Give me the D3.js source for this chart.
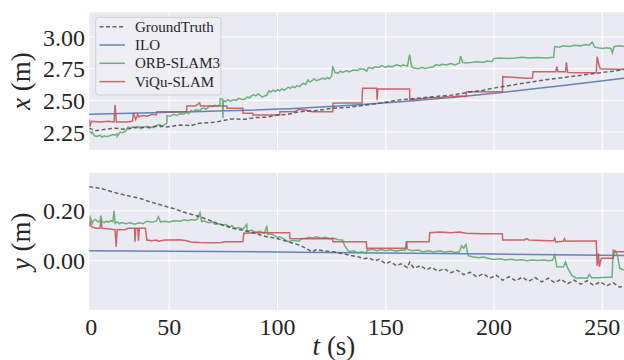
<!DOCTYPE html>
<html><head><meta charset="utf-8">
<script src="https://cdn.jsdelivr.net/npm/d3@7"></script>
<style>
html,body{margin:0;padding:0;background:#fff;}
svg{display:block;}
text{font-family:"Liberation Serif","Times New Roman",serif;fill:#262626;}
</style></head>
<body><svg id="c" width="624" height="360"></svg>
<script>
// ---- data ----
const seriesNames = ["GroundTruth","ILO","ORB-SLAM3","ViQu-SLAM"];
const tTickValues = [13.1, 50, 100, 150, 200, 250];
const tTickLabels = ["0","50","100","150","200","250"];
const xTicks = [2.25, 2.50, 2.75, 3.00];
const yTicks = [0.00, 0.20];

const gtX = [[13,2.28],[16,2.26],[20,2.27],[25,2.28],[30,2.27],[35,2.29],[40,2.285],[45,2.30],[49,2.29],[55,2.305],[60,2.30],[64,2.32],[70,2.325],[75,2.34],[79,2.353],[85,2.35],[90,2.365],[95,2.366],[100,2.385],[105,2.39],[110,2.41],[118,2.42],[125,2.437],[133,2.445],[141,2.463],[148,2.48],[156,2.503],[164,2.515],[172,2.529],[180,2.54],[187,2.56],[195,2.58],[202,2.603],[210,2.625],[218,2.647],[225,2.665],[233,2.682],[241,2.70],[249,2.718],[255,2.73],[260,2.745]];
const iloX = [[13,2.39],[60,2.41],[110,2.437],[160,2.492],[202.5,2.56],[231,2.616],[260,2.675]];
const orbX = [[13,2.26],[14,2.24],[14.5,2.25],[15.5,2.22],[16.7,2.215],[18,2.225],[19,2.21],[20,2.22],[21,2.212],[22.6,2.22],[24,2.23],[25,2.225],[25.9,2.235],[26,2.215],[27.3,2.25],[28.5,2.245],[30,2.26],[31,2.29],[32,2.28],[33.3,2.29],[34.5,2.28],[36,2.29],[37,2.275],[38.5,2.29],[39.7,2.295],[41,2.28],[42,2.29],[43,2.285],[44,2.30],[45.7,2.31],[46,2.29],[47.5,2.305],[48.9,2.32],[49,2.38],[50.5,2.375],[52,2.39],[53.5,2.38],[55,2.395],[56.5,2.39],[58.2,2.405],[59,2.395],[60,2.42],[61,2.41],[62.5,2.425],[64.2,2.42],[65,2.435],[66,2.44],[67,2.43],[68,2.445],[69,2.455],[70,2.45],[71,2.46],[72,2.455],[73.4,2.465],[73.5,2.51],[74.6,2.51],[74.8,2.36],[75,2.50],[76,2.49],[77,2.505],[78,2.495],[80,2.505],[81,2.50],[82,2.515],[84,2.505],[85,2.51],[86,2.525],[87.2,2.52],[88,2.535],[89,2.545],[90,2.535],[91,2.55],[92,2.54],[93,2.525],[94,2.535],[95.1,2.54],[96,2.575],[97,2.565],[98,2.58],[99,2.57],[100,2.585],[101,2.575],[102,2.59],[103,2.58],[104.3,2.595],[105,2.605],[106,2.595],[107,2.61],[108,2.60],[109,2.615],[110.3,2.61],[111,2.625],[112,2.635],[113,2.625],[114,2.66],[115,2.645],[116,2.655],[117,2.67],[118,2.655],[119.5,2.665],[121,2.675],[122,2.665],[123,2.68],[124,2.67],[125,2.69],[125.5,2.77],[126.5,2.72],[128,2.715],[129,2.73],[130,2.72],[132,2.735],[133,2.725],[135,2.74],[137,2.735],[138,2.75],[140,2.745],[141.2,2.73],[142,2.76],[144,2.75],[145,2.765],[147,2.76],[148,2.775],[150,2.76],[151,2.77],[153,2.765],[155,2.78],[157,2.77],[158,2.78],[160,2.77],[161,2.86],[162,2.765],[163,2.755],[165,2.75],[167,2.76],[168,2.75],[170,2.76],[172,2.765],[173,2.78],[175,2.775],[176,2.785],[178,2.78],[180,2.79],[182,2.78],[184,2.795],[184.5,2.85],[185.5,2.80],[187,2.795],[190,2.80],[192,2.805],[195,2.80],[197,2.81],[199,2.805],[200,2.83],[203,2.835],[206,2.83],[210,2.835],[213,2.84],[216,2.835],[220,2.838],[224,2.835],[227.5,2.84],[228,2.925],[230,2.92],[232,2.93],[235,2.925],[237,2.935],[240,2.93],[242,2.94],[244,2.935],[245.3,2.96],[246.5,2.92],[248,2.915],[250,2.91],[252,2.915],[254,2.91],[254.6,2.875],[255.5,2.925],[258,2.93],[260,2.925]];
const viquX = [[13,2.35],[13.4,2.29],[14,2.335],[18,2.33],[22,2.335],[24.5,2.33],[25,2.465],[25.6,2.33],[30,2.33],[33,2.335],[33.5,2.40],[34.5,2.35],[35.5,2.39],[36,2.37],[38,2.38],[40,2.375],[42,2.39],[44,2.385],[44.3,2.41],[50,2.41],[55,2.41],[58,2.41],[58.2,2.455],[62,2.455],[64,2.48],[64.5,2.455],[70,2.455],[76.6,2.455],[76.7,2.437],[84,2.437],[84.1,2.398],[88.6,2.398],[88.7,2.384],[95,2.385],[101,2.384],[101.1,2.41],[108,2.41],[110,2.43],[114,2.42],[116,2.41],[125.5,2.41],[125.6,2.477],[132,2.48],[139,2.48],[139.3,2.595],[145,2.595],[145.8,2.595],[146,2.50],[146.3,2.59],[155,2.59],[161,2.59],[161.1,2.503],[165,2.51],[170,2.52],[175,2.52],[178,2.53],[180,2.525],[183,2.535],[187,2.53],[187.3,2.568],[195,2.568],[203.9,2.568],[204,2.687],[210,2.68],[215,2.675],[217.7,2.676],[218,2.726],[225,2.726],[228.5,2.726],[229,2.766],[229.5,2.726],[233,2.726],[233.4,2.80],[234,2.72],[240,2.718],[247.2,2.718],[247.6,2.845],[248.3,2.79],[249,2.75],[255,2.745],[260,2.745]];

const gtY = [[13,0.296],[18,0.29],[22,0.28],[26,0.27],[30,0.262],[33,0.256],[37,0.248],[41,0.236],[45,0.226],[49,0.216],[53,0.206],[56,0.196],[60,0.186],[64,0.176],[68,0.164],[72,0.15],[76,0.14],[79,0.13],[83,0.124],[87,0.116],[91,0.106],[95,0.096],[99,0.09],[102,0.083],[106,0.073],[110,0.063],[113,0.05],[116,0.036],[118,0.045],[121,0.04],[125.5,0.036],[129,0.03],[133,0.023],[137,0.016],[140,0.008],[142,0.012],[145,0.0],[147,0.006],[150,-0.012],[152,-0.004],[155,-0.02],[157,-0.012],[160,-0.028],[161,-0.006],[163,-0.03],[166,-0.02],[169,-0.036],[171,-0.026],[174,-0.042],[177,-0.032],[180,-0.048],[183,-0.038],[186,-0.056],[189,-0.046],[192,-0.064],[195,-0.052],[198,-0.07],[201,-0.058],[204,-0.078],[207,-0.064],[210,-0.08],[213,-0.066],[216,-0.082],[219,-0.068],[222,-0.085],[225,-0.07],[228,-0.088],[231,-0.074],[234,-0.092],[237,-0.078],[240,-0.094],[243,-0.08],[246,-0.098],[249,-0.085],[252,-0.1],[255,-0.088],[258,-0.106],[260,-0.1]];
const iloY = [[13,0.040],[100,0.035],[200,0.027],[260,0.021]];
const orbY = [[13,0.163],[13.5,0.175],[14.5,0.15],[15,0.16],[16,0.165],[17,0.155],[18,0.158],[18.5,0.18],[19,0.156],[20,0.152],[21,0.158],[22,0.154],[23,0.16],[24,0.156],[24.5,0.2],[25,0.15],[26,0.155],[27,0.148],[28,0.153],[30,0.148],[32,0.152],[34,0.146],[36,0.152],[38,0.148],[39,0.155],[40,0.158],[42,0.154],[44,0.158],[45,0.176],[46,0.155],[48,0.158],[50,0.154],[52,0.16],[55,0.158],[57,0.164],[59,0.16],[60,0.165],[62,0.162],[63,0.167],[64.2,0.192],[65,0.156],[66,0.16],[68,0.152],[70,0.155],[71,0.146],[73,0.148],[75,0.14],[76,0.145],[78,0.135],[79,0.14],[80,0.13],[82,0.133],[84,0.126],[85.8,0.145],[86,0.118],[88,0.122],[90,0.114],[92,0.118],[94,0.11],[95.1,0.14],[95.5,0.105],[97,0.108],[99,0.098],[100,0.092],[101,0.096],[103,0.086],[105,0.076],[107,0.082],[110,0.078],[111,0.088],[113,0.09],[115,0.094],[116,0.09],[118,0.096],[120,0.09],[122,0.094],[124,0.088],[126,0.09],[128,0.084],[130,0.083],[131,0.06],[133,0.036],[135,0.04],[137,0.032],[139,0.036],[141,0.03],[141.5,0.045],[142,0.042],[144,0.046],[146,0.04],[148,0.045],[150,0.04],[152,0.044],[155,0.038],[157,0.043],[159,0.042],[159.5,0.078],[160,0.045],[162,0.04],[165,0.043],[167,0.036],[170,0.04],[172,0.035],[175,0.04],[177,0.034],[180,0.038],[182,0.033],[184,0.036],[185,0.06],[186,0.05],[187,0.065],[188,0.02],[190,0.016],[193,0.012],[195,0.015],[198,0.008],[200,0.005],[203,0.008],[205,0.003],[208,0.006],[210,0.002],[213,0.004],[215,0.0],[218,0.003],[220,0.001],[223,0.003],[225,0.0],[227,0.002],[228,0.023],[229,-0.024],[232,-0.025],[233,-0.005],[234,-0.03],[236,-0.06],[238,-0.07],[240,-0.068],[243,-0.07],[244,-0.055],[245,-0.068],[248,-0.068],[252,-0.066],[254.5,-0.066],[255,0.043],[256,0.04],[257,0.02],[258,-0.03],[260,-0.037]];
const viquY = [[13,0.136],[13.5,0.16],[14,0.136],[16,0.13],[18,0.13],[18.5,0.16],[19,0.13],[22,0.128],[24,0.125],[25,0.125],[25.5,0.056],[26,0.125],[28,0.124],[30,0.125],[31,0.13],[34,0.13],[34.2,0.076],[34.6,0.13],[35.5,0.13],[35.8,0.08],[36.2,0.13],[39,0.13],[39.7,0.083],[42,0.08],[44,0.083],[45,0.078],[48,0.083],[50,0.083],[55,0.084],[58,0.08],[60,0.075],[64,0.073],[70,0.072],[74,0.073],[76,0.076],[84,0.076],[84.5,0.11],[90,0.112],[95,0.112],[100,0.112],[105.6,0.112],[105.7,0.089],[110,0.088],[118,0.088],[125.5,0.089],[125.6,0.076],[133,0.076],[141,0.076],[141.2,0.05],[150,0.05],[159.5,0.05],[159.7,0.076],[165,0.076],[170,0.076],[170.3,0.112],[175,0.115],[180,0.112],[184,0.115],[187,0.11],[195,0.108],[203.8,0.108],[204,0.083],[210,0.083],[214,0.083],[215,0.088],[216,0.083],[225,0.08],[227.5,0.08],[228,0.09],[228.5,0.075],[232,0.078],[232.5,0.088],[233,0.078],[240,0.079],[247.2,0.079],[247.6,-0.02],[248.2,0.03],[248.6,-0.024],[249.5,0.01],[255,0.01],[255.5,0.036],[260,0.036]];

// ---- drawing ----
const colors = {gt:"#4d4d4d", ilo:"#4C72B0", orb:"#55A868", viqu:"#C44E52"};
const svg = d3.select("#c");
const L = 89.3, R = 624;
const x = d3.scaleLinear().domain([13.1, 260]).range([L, R]);
const panels = [
  {top:12.3, bot:150, domain:[2.108,3.195], ticks:xTicks, label:"x", data:[["ilo",iloX],["orb",orbX],["viqu",viquX],["gt",gtX]], legend:true},
  {top:172.7, bot:310, domain:[-0.197,0.352], ticks:yTicks, label:"y", data:[["ilo",iloY],["orb",orbY],["viqu",viquY],["gt",gtY]], legend:false, xlabels:true}
];
const fmt = d3.format(".2f");
panels.forEach((p,i)=>{
  const y = d3.scaleLinear().domain(p.domain).range([p.bot,p.top]);
  const g = svg.append("g");
  g.append("rect").attr("x",L).attr("y",p.top).attr("width",R-L).attr("height",p.bot-p.top).attr("fill","#EAEAF2");
  g.selectAll(".gx").data(tTickValues.slice(1)).join("line")
    .attr("x1",d=>x(d)).attr("x2",d=>x(d)).attr("y1",p.top).attr("y2",p.bot)
    .attr("stroke","#fff").attr("stroke-width",1.1);
  g.selectAll(".gy").data(p.ticks).join("line")
    .attr("x1",L).attr("x2",R).attr("y1",d=>y(d)).attr("y2",d=>y(d))
    .attr("stroke","#fff").attr("stroke-width",1.1);
  g.selectAll(".ty").data(p.ticks).join("text")
    .attr("x",85).attr("y",d=>y(d)).attr("dy","0.36em").attr("text-anchor","end")
    .attr("font-size",24).text(d=>fmt(d));
  const cid = "clip"+i;
  svg.append("clipPath").attr("id",cid).append("rect").attr("x",L).attr("y",p.top).attr("width",R-L).attr("height",p.bot-p.top);
  const lg = g.append("g").attr("clip-path",`url(#${cid})`);
  const line = d3.line().x(d=>x(d[0])).y(d=>y(d[1]));
  p.data.forEach(([k,arr])=>{
    const path = lg.append("path").datum(arr).attr("fill","none")
      .attr("stroke",colors[k]).attr("stroke-width",1.5).attr("stroke-opacity",0.85)
      .attr("d", k==="ilo" ? line.curve(d3.curveMonotoneX)(arr) : line.curve(d3.curveLinear)(arr));
    if(k==="gt") path.attr("stroke-dasharray","4,2.5");
  });
  const cy = (p.top+p.bot)/2;
  const t = g.append("text").attr("transform",`translate(30,${cy}) rotate(-90)`).attr("text-anchor","middle").attr("font-size",27);
  t.append("tspan").attr("font-style","italic").text(p.label);
  t.append("tspan").text(" (m)");
  if(p.xlabels){
    g.selectAll(".tx").data(tTickValues).join("text")
      .attr("x",(d,j)=> j===0 ? x(d)+2 : x(d)).attr("y",p.bot+25).attr("text-anchor","middle")
      .attr("font-size",24).text((d,j)=>tTickLabels[j]);
    const tl = g.append("text").attr("x",334).attr("y",355).attr("text-anchor","middle").attr("font-size",27);
    tl.append("tspan").attr("font-style","italic").text("t");
    tl.append("tspan").text(" (s)");
  }
  if(p.legend){
    const lgd = svg.append("g");
    lgd.append("rect").attr("x",95.7).attr("y",17.3).attr("width",125.3).attr("height",77.7).attr("rx",3)
      .attr("fill","#EEEEF4").attr("fill-opacity",0.9).attr("stroke","#cfcfcf").attr("stroke-width",1);
    const keys = ["gt","ilo","orb","viqu"];
    seriesNames.forEach((n,j)=>{
      const yy = 26.7 + j*18.3;
      const l = lgd.append("line").attr("x1",99.5).attr("x2",125).attr("y1",yy).attr("y2",yy)
        .attr("stroke",colors[keys[j]]).attr("stroke-width",1.5).attr("stroke-opacity",0.85);
      if(j===0) l.attr("stroke-dasharray","4,2.5");
      lgd.append("text").attr("x",135).attr("y",yy).attr("dy","0.33em").attr("font-size",15).text(n);
    });
  }
});
</script></body></html>
